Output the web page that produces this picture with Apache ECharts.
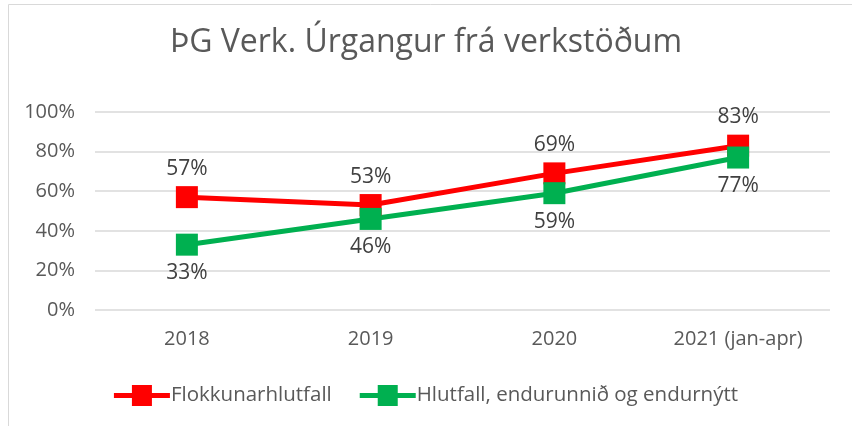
<!DOCTYPE html>
<html>
<head>
<meta charset="utf-8">
<script src="https://cdn.jsdelivr.net/npm/echarts@6/dist/echarts.min.js"></script>
<style>
  html, body { margin: 0; padding: 0; background: #fff; }
  #echart { width: 852px; height: 426px; }
</style>
</head>
<body>
<div id="echart"></div>
<script>
var categories = ['2018', '2019', '2020', '2021 (jan-apr)'];
var flokkun = [57, 53, 69, 83];
var endurunnid = [33, 46, 59, 77];
var yTicks = ['0%', '20%', '40%', '60%', '80%', '100%'];

var font = '"Open Sans", "Noto Sans", sans-serif';
// legend icon: thick line with a square in the middle
var legendIcon = 'path://M0,8H18V0H38V8H56V13H38V21H18V13H0Z';
var myChart = echarts.init(document.getElementById('echart'));

var option = {
    animation: false,
    textStyle: { fontFamily: font },
    graphic: [{
        type: 'rect',
        shape: { x: 8.5, y: 4.5, width: 850, height: 430 },
        style: { fill: 'none', stroke: '#d9d9d9', lineWidth: 1 }
    }],
    title: {
        text: 'ÞG Verk. Úrgangur frá verkstöðum',
        left: 'center',
        top: 22,
        textStyle: { fontFamily: font, fontSize: 32, fontWeight: 'normal', color: '#595959' }
    },
    legend: {
        bottom: 15,
        left: 'center',
        itemWidth: 56,
        itemHeight: 21,
        itemGap: 28,
        textStyle: { fontFamily: font, fontSize: 20.5, color: '#595959', padding: [0, 0, 0, -4] },
        data: [
            { name: 'Flokkunarhlutfall', icon: legendIcon },
            { name: 'Hlutfall, endurunnið og endurnýtt', icon: legendIcon }
        ]
    },
    grid: { left: 95, right: 22, top: 112, bottom: 116 },
    xAxis: {
        type: 'category',
        data: categories,
        axisLine: { show: false },
        axisTick: { show: false },
        axisLabel: { fontFamily: font, fontSize: 20, color: '#595959', margin: 19 }
    },
    yAxis: {
        type: 'value',
        min: 0,
        max: 100,
        interval: 20,
        axisLine: { show: false },
        axisTick: { show: false },
        axisLabel: {
            fontFamily: font, fontSize: 20, color: '#595959', margin: 20,
            formatter: function (v) { return yTicks[v / 20]; }
        },
        splitLine: { lineStyle: { color: '#d9d9d9', width: 1.5 } }
    },
    series: [
        {
            name: 'Flokkunarhlutfall',
            type: 'line',
            data: flokkun,
            symbol: 'rect',
            symbolSize: 22,
            color: '#ff0000',
            lineStyle: { width: 5, color: '#ff0000' },
            itemStyle: { color: '#ff0000' },
            label: {
                show: true, position: 'top', distance: 7,
                fontFamily: font, fontSize: 21, color: '#404040',
                formatter: '{c}%'
            }
        },
        {
            name: 'Hlutfall, endurunnið og endurnýtt',
            type: 'line',
            data: endurunnid,
            symbol: 'rect',
            symbolSize: 22,
            color: '#00b050',
            lineStyle: { width: 5, color: '#00b050' },
            itemStyle: { color: '#00b050' },
            label: {
                show: true, position: 'bottom', distance: 7,
                fontFamily: font, fontSize: 21, color: '#404040',
                formatter: '{c}%'
            }
        }
    ]
};
myChart.setOption(option);
</script>
</body>
</html>
